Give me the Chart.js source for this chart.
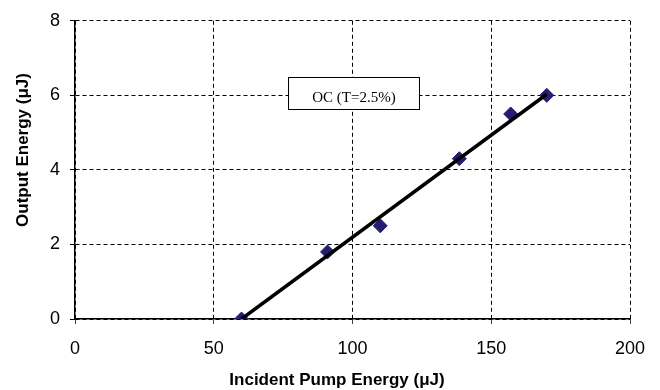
<!DOCTYPE html>
<html><head><meta charset="utf-8">
<script src="https://cdn.jsdelivr.net/npm/chart.js@4/dist/chart.umd.min.js"></script>
<style>html,body{margin:0;padding:0;background:#fff}#wrap{width:660px;height:390px}</style>
</head><body><div id="wrap"><canvas id="c" width="660" height="390"></canvas></div>
<script>
const pumpEnergy = [60, 91, 110, 138.5, 157, 170];
const outputEnergy = [0, 1.8, 2.5, 4.3, 5.5, 6.0];
const fitX = [60, 170];
const fitY = [0, 6.03];
const xTicks = [0, 50, 100, 150, 200];
const yTicks = [0, 2, 4, 6, 8];
const annotationText = 'OC (T=2.5%)';
const xTitle = 'Incident Pump Energy (\u03BCJ)';
const yTitle = 'Output Energy (\u03BCJ)';

const textPlugin = {
  id: 'texts',
  afterDatasetsDraw(chart) {
    const ctx = chart.ctx;
    ctx.save();
    // annotation box
    ctx.fillStyle = '#fff';
    ctx.strokeStyle = '#000';
    ctx.lineWidth = 1;
    ctx.fillRect(288, 77, 131, 32);
    ctx.strokeRect(288.5, 77.5, 131, 32);
    ctx.fillStyle = '#000';
    ctx.font = '15px "Liberation Serif"';
    ctx.textAlign = 'center';
    ctx.textBaseline = 'middle';
    ctx.fillText(annotationText, 354, 98);
    // axis titles
    ctx.font = 'bold 17px "Liberation Sans"';
    ctx.fillText(xTitle, 337, 380);
    ctx.translate(23, 150);
    ctx.rotate(-Math.PI / 2);
    ctx.fillText(yTitle, 0, 0);
    ctx.restore();
  }
};

new Chart(document.getElementById('c'), {
  type: 'scatter',
  data: {
    datasets: [
      {
        type: 'line',
        data: fitX.map((x, i) => ({x, y: fitY[i]})),
        borderColor: '#000',
        borderWidth: 3.5,
        pointRadius: 0,
        fill: false,
        order: 1
      },
      {
        data: pumpEnergy.map((x, i) => ({x, y: outputEnergy[i]})),
        pointStyle: 'rectRot',
        pointRadius: 7,
        backgroundColor: '#241D72',
        borderColor: '#241D72',
        borderWidth: 1,
        order: 2
      }
    ]
  },
  options: {
    responsive: false,
    animation: false,
    devicePixelRatio: 1,
    layout: {padding: {top: 19, right: 30, left: 0, bottom: 0}},
    plugins: {legend: {display: false}, tooltip: {enabled: false}},
    scales: {
      x: {
        type: 'linear', min: 0, max: 200,
        afterBuildTicks: s => { s.ticks = xTicks.map(v => ({value: v})); },
        afterFit: s => { s.height = 71; },
        grid: {color: '#000', lineWidth: 1, tickLength: 5, tickBorderDash: [1, 0], tickColor: '#000'},
        border: {display: true, color: '#000', width: 1.5, dash: [4, 3]},
        ticks: {color: '#000', font: {family: '"Liberation Sans"', size: 18}, padding: 14, maxRotation: 0},
        title: {display: false}
      },
      y: {
        type: 'linear', min: 0, max: 8,
        afterBuildTicks: s => { s.ticks = yTicks.map(v => ({value: v})); },
        afterFit: s => { s.width = 75; },
        grid: {color: '#000', lineWidth: 1, tickLength: 5, tickBorderDash: [1, 0], tickColor: '#000'},
        border: {display: true, color: '#000', width: 1.5, dash: [4, 3]},
        ticks: {color: '#000', font: {family: '"Liberation Sans"', size: 18}, padding: 10},
        title: {display: false}
      }
    }
  },
  plugins: [textPlugin]
});
</script>
</body></html>
